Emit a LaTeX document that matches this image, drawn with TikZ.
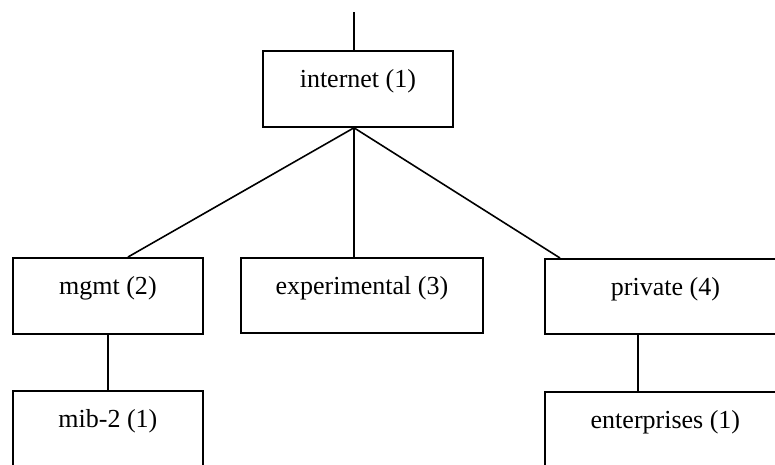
\documentclass[tikz,border=0pt]{standalone}
\usepackage{fontspec}
\setmainfont{Liberation Serif}
\begin{document}
\begin{tikzpicture}[x=1pt,y=-1pt,
  box/.style={draw, line width=1.8pt, rectangle, anchor=north west, inner sep=0pt},
  lbl/.style={anchor=base, inner sep=0pt, font=\fontsize{26}{30}\selectfont},
  link/.style={line width=1.6pt}]
  \useasboundingbox (0,0) rectangle (775,464);
  \clip (0,0) rectangle (775,464);

  % boxes of the tree (x, y of top-left corner; width, height)
  \node[box, minimum width=190, minimum height=76] (internet) at (262,50) {};
  \node[box, minimum width=190, minimum height=76] (mgmt) at (12,257) {};
  \node[box, minimum width=242, minimum height=75] (experimental) at (240,257) {};
  \node[box, minimum width=241, minimum height=75] (private) at (544,258) {};
  \node[box, minimum width=190, minimum height=90] (mib) at (12,390) {};
  \node[box, minimum width=241, minimum height=90] (enterprises) at (544,391) {};

  % labels, baseline a fixed distance below each box top
  \node[lbl] (tinternet) at ([yshift=-37.5pt]internet.north) {internet (1)};
  \node[lbl] (tmgmt) at ([yshift=-37.5pt]mgmt.north) {mgmt (2)};
  \node[lbl] (texperimental) at ([yshift=-37.5pt]experimental.north) {experimental (3)};
  \node[lbl] (tprivate) at ([yshift=-37.5pt]private.north) {private (4)};
  \node[lbl] (tmib) at ([yshift=-37.5pt]mib.north) {mib-2 (1)};
  \node[lbl] (tenterprises) at ([yshift=-37.5pt]enterprises.north) {enterprises (1)};

  % connectors
  \coordinate (root) at (354,12);
  \coordinate (hub) at (root |- internet.south);
  \coordinate (mgmtin) at (128,257);
  \coordinate (privin) at (560,258);
  \coordinate (mgmtout) at (108,333);
  \coordinate (privout) at (638,333);
  \draw[link] (root) -- (root |- internet.north);
  \draw[link] (hub) -- (mgmtin);
  \draw[link] (hub) -- (hub |- experimental.north);
  \draw[link] (hub) -- (privin);
  \draw[link] (mgmtout) -- (mgmtout |- mib.north);
  \draw[link] (privout) -- (privout |- enterprises.north);
\end{tikzpicture}
\end{document}
